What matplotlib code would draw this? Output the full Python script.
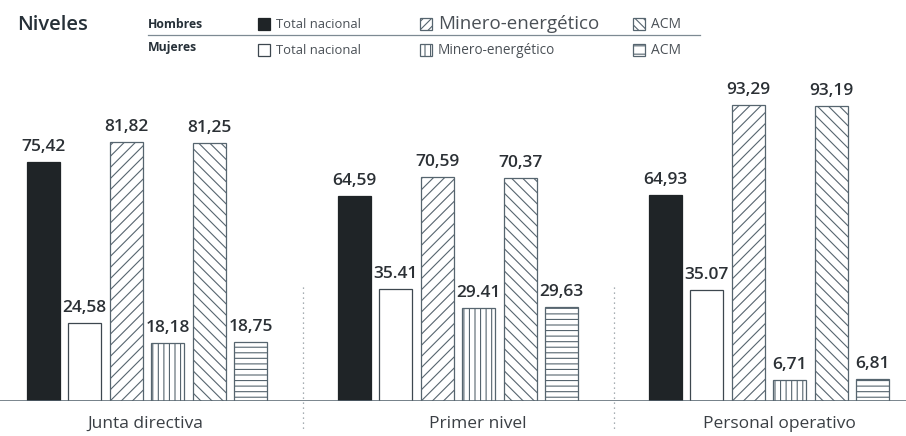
"""
Participacion por niveles: hombres y mujeres, total nacional, sector
minero-energetico y ACM.
"""

import matplotlib
matplotlib.use("Agg")
import matplotlib.pyplot as plt
from matplotlib.patches import Rectangle

plt.rcParams["font.family"] = ["Open Sans", "DejaVu Sans"]
plt.rcParams["hatch.linewidth"] = 0.8

categorias = ["Junta directiva", "Primer nivel", "Personal operativo"]

hombres_total = [75.42, 64.59, 64.93]
mujeres_total = [24.58, 35.41, 35.07]
hombres_minero = [81.82, 70.59, 93.29]
mujeres_minero = [18.18, 29.41, 6.71]
hombres_acm = [81.25, 70.37, 93.19]
mujeres_acm = [18.75, 29.63, 6.81]

# etiquetas tal como salen en la figura (algunas con punto decimal)
etq_hombres_total = ["75,42", "64,59", "64,93"]
etq_mujeres_total = ["24,58", "35.41", "35.07"]
etq_hombres_minero = ["81,82", "70,59", "93,29"]
etq_mujeres_minero = ["18,18", "29.41", "6,71"]
etq_hombres_acm = ["81,25", "70,37", "93,19"]
etq_mujeres_acm = ["18,75", "29,63", "6,81"]

W, H = 906, 436
LINE = "#56656f"
DARK = "#1f2427"
TXT = "#3a3f44"


def px(x, y):
    """pixel (desde arriba a la izquierda) -> fraccion de figura"""
    return x / W, 1 - y / H


fig = plt.figure(figsize=(W / 100, H / 100), dpi=100)
ax = fig.add_axes([0, 35 / H, 1, 321 / H])

series = [
    (hombres_total, etq_hombres_total, dict(facecolor=DARK, edgecolor=DARK)),
    (mujeres_total, etq_mujeres_total, dict(facecolor="white", edgecolor="#3d474f")),
    (hombres_minero, etq_hombres_minero, dict(facecolor="white", edgecolor=LINE, hatch="///")),
    (mujeres_minero, etq_mujeres_minero, dict(facecolor="white", edgecolor=LINE, hatch="|||")),
    (hombres_acm, etq_hombres_acm, dict(facecolor="white", edgecolor=LINE, hatch="\\\\\\")),
    (mujeres_acm, etq_mujeres_acm, dict(facecolor="white", edgecolor=LINE, hatch="---")),
]

paso = 41.5 / 311
ancho = 33 / 311
for i, (vals, etqs, estilo) in enumerate(series):
    xs = [g + (i - 2.5) * paso for g in range(len(categorias))]
    bars = ax.bar(xs, vals, width=ancho, linewidth=0.9, **estilo)
    for b, e in zip(bars, etqs):
        ax.annotate(e, (b.get_x() + b.get_width() / 2, b.get_height()),
                    xytext=(0, 5), textcoords="offset points",
                    ha="center", va="bottom", fontsize=12.5,
                    color="#2b3035", fontweight="semibold")

ax.set_xlim(-147 / 311, (W - 147) / 311)
ax.set_ylim(0, 321 / 3.17)
ax.axhline(0, color=LINE, lw=1.1, zorder=3)

for xsep in [0.5, 1.5]:
    ax.plot([xsep, xsep], [36, -9.5], ls=(0, (1, 3)), color="#8a949b",
            lw=0.9, clip_on=False)

# los rotulos de categoria no quedan exactamente centrados en el original
desplaz = [-2, 20, 10]
for g, cat in enumerate(categorias):
    ax.annotate(cat, (g, 0), xytext=(desplaz[g] * 0.72, -11),
                textcoords="offset points", ha="center", va="top",
                fontsize=12.5, color=TXT)

ax.axis("off")

# encabezado y leyenda
fig.text(*px(17, 25), "Niveles", fontsize=14.5, fontweight="semibold",
         color="#263038", va="center")
fig.text(*px(148, 24), "Hombres", fontsize=8.8, fontweight="bold",
         color="#263038", va="center")
fig.text(*px(148, 48), "Mujeres", fontsize=8.8, fontweight="bold",
         color="#263038", va="center")
fig.add_artist(plt.Line2D([148 / W, 700 / W], [1 - 35 / H, 1 - 35 / H],
                          color="#7d8a93", lw=0.9))

leyenda = [
    (258, 24, dict(facecolor=DARK, edgecolor=DARK), "Total nacional", 9.4),
    (258, 50, dict(facecolor="white", edgecolor="#3d474f"), "Total nacional", 9.4),
    (420, 24, dict(facecolor="white", edgecolor=LINE, hatch="////"), "Minero-energético", 13.5),
    (420, 50, dict(facecolor="white", edgecolor=LINE, hatch="|||"), "Minero-energético", 9.8),
    (633, 24, dict(facecolor="white", edgecolor=LINE, hatch="\\\\\\\\"), "ACM", 10),
    (633, 50, dict(facecolor="white", edgecolor=LINE, hatch="--"), "ACM", 10),
]
for x, y, estilo, texto, fs in leyenda:
    fig.add_artist(Rectangle(px(x, y + 6), 12 / W, 12 / H,
                             transform=fig.transFigure, linewidth=0.9, **estilo))
    fig.text(*px(x + 18, y), texto, fontsize=fs, color="#4a5056", va="center")

fig.savefig("out.png", dpi=100)
